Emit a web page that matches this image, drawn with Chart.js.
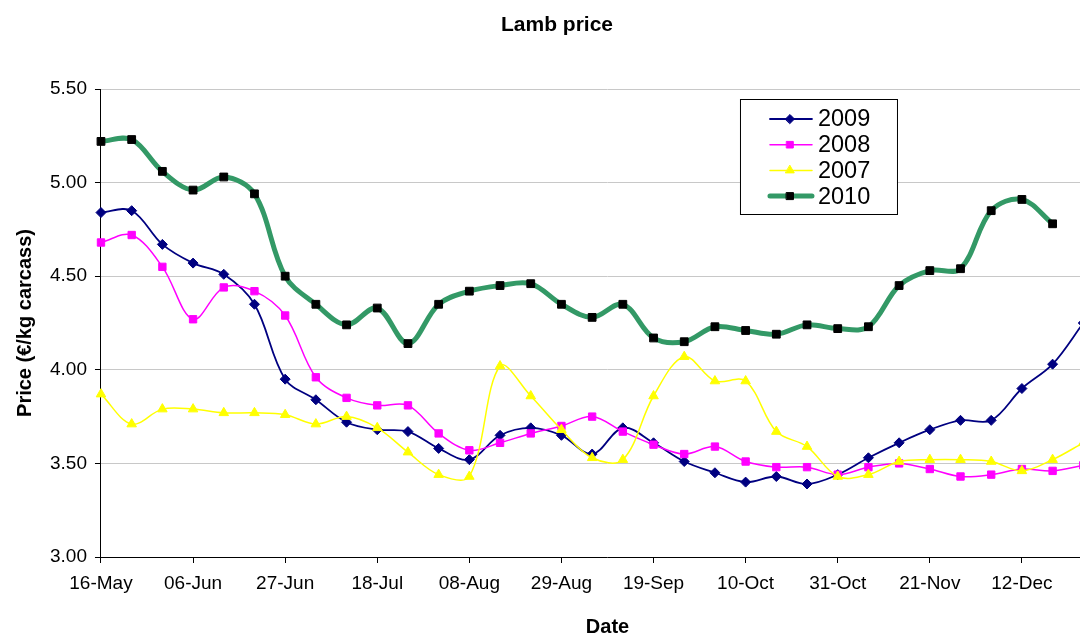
<!DOCTYPE html>
<html>
<head>
<meta charset="utf-8">
<script src="https://cdn.jsdelivr.net/npm/chart.js@4"></script>
<style>
html, body { margin: 0; padding: 0; background: #fff; overflow: hidden; }
</style>
</head>
<body>
<canvas id="chart" width="1125" height="637"></canvas>
<script>
// weekly categories, the axis only labels every third week
// (the original chart runs a little past the right edge of the picture)
const weeks = ['16-May', '23-May', '30-May', '06-Jun', '13-Jun', '20-Jun', '27-Jun', '04-Jul',
  '11-Jul', '18-Jul', '25-Jul', '01-Aug', '08-Aug', '15-Aug', '22-Aug', '29-Aug', '05-Sep',
  '12-Sep', '19-Sep', '26-Sep', '03-Oct', '10-Oct', '17-Oct', '24-Oct', '31-Oct', '07-Nov',
  '14-Nov', '21-Nov', '28-Nov', '05-Dec', '12-Dec', '19-Dec', '26-Dec', '02-Jan'];
const lastLabelled = weeks.indexOf('12-Dec');

const price2009 = [4.84, 4.85, 4.67, 4.57, 4.51, 4.35, 3.95, 3.84, 3.72, 3.68, 3.67, 3.58, 3.52,
  3.65, 3.69, 3.65, 3.55, 3.69, 3.61, 3.51, 3.45, 3.40, 3.43, 3.39, 3.44, 3.53, 3.61, 3.68,
  3.73, 3.73, 3.90, 4.03, 4.25];
const price2008 = [4.68, 4.72, 4.55, 4.27, 4.44, 4.42, 4.29, 3.96, 3.85, 3.81, 3.81, 3.66, 3.57,
  3.61, 3.66, 3.70, 3.75, 3.67, 3.60, 3.55, 3.59, 3.51, 3.48, 3.48, 3.44, 3.48, 3.50, 3.47,
  3.43, 3.44, 3.47, 3.46, 3.49];
const price2007 = [3.87, 3.71, 3.79, 3.79, 3.77, 3.77, 3.76, 3.71, 3.75, 3.69, 3.56, 3.44, 3.43,
  4.02, 3.86, 3.68, 3.53, 3.52, 3.86, 4.07, 3.94, 3.94, 3.67, 3.59, 3.43, 3.44, 3.51, 3.52,
  3.52, 3.51, 3.46, 3.52, 3.61];
const price2010 = [5.22, 5.23, 5.06, 4.96, 5.03, 4.94, 4.50, 4.35, 4.24, 4.33, 4.14, 4.35, 4.42,
  4.45, 4.46, 4.35, 4.28, 4.35, 4.17, 4.15, 4.23, 4.21, 4.19, 4.24, 4.22, 4.23, 4.45, 4.53,
  4.54, 4.85, 4.91, 4.78];

const FONT = 'Arial, "Liberation Sans", sans-serif';

function series(label, data, line, marker, style, radius, width, order) {
  return {
    label: label,
    data: data,
    borderColor: line,
    borderWidth: width,
    backgroundColor: marker,
    pointStyle: style,
    pointRadius: radius,
    pointBackgroundColor: marker,
    pointBorderColor: marker,
    pointBorderWidth: 1,
    tension: 0.35,
    fill: false,
    order: order
  };
}

function showTick(i) {
  return i % 3 === 0 && i <= lastLabelled;
}

// boxed key sitting inside the plot area
const boxLegend = {
  id: 'boxLegend',
  afterDatasetsDraw(chart) {
    const ctx = chart.ctx;
    const ca = chart.chartArea;
    const x = ca.left + 639, y = ca.top + 10, w = 157, h = 115;
    ctx.save();
    ctx.fillStyle = '#fff';
    ctx.fillRect(x, y, w, h);
    ctx.strokeStyle = '#000';
    ctx.lineWidth = 1;
    ctx.strokeRect(x + 0.5, y + 0.5, w, h);
    ctx.font = '23.5px ' + FONT;
    ctx.textBaseline = 'middle';
    chart.data.datasets.forEach((ds, i) => {
      const cy = y + 20 + i * 25.7;
      ctx.strokeStyle = ds.borderColor;
      ctx.lineWidth = ds.borderWidth;
      ctx.lineCap = 'round';
      ctx.beginPath();
      ctx.moveTo(x + 30, cy);
      ctx.lineTo(x + 72, cy);
      ctx.stroke();
      ctx.fillStyle = ds.pointBackgroundColor;
      ctx.strokeStyle = ds.pointBorderColor;
      ctx.lineWidth = 1;
      Chart.helpers.drawPoint(ctx, {
        pointStyle: ds.pointStyle, radius: ds.pointRadius * 0.9, rotation: 0, borderWidth: 1
      }, x + 50, cy);
      ctx.fillStyle = '#000';
      ctx.fillText(ds.label, x + 78, cy + 1);
    });
    ctx.restore();
  }
};

new Chart(document.getElementById('chart'), {
  type: 'line',
  data: {
    labels: weeks,
    datasets: [
      series('2009', price2009, '#000080', '#000080', 'rectRot', 5, 1.8, 4),
      series('2008', price2008, '#ff00ff', '#ff00ff', 'rect', 5.2, 1.5, 3),
      series('2007', price2007, '#ffff00', '#ffff00', 'triangle', 5.5, 1.5, 2),
      series('2010', price2010, '#339966', '#000000', 'rect', 5.5, 5, 1)
    ]
  },
  options: {
    responsive: false,
    animation: false,
    devicePixelRatio: 1,
    layout: { autoPadding: false, padding: { left: 0, right: 11, top: 0, bottom: 0 } },
    plugins: {
      legend: { display: false },
      tooltip: { enabled: false },
      title: {
        display: true,
        text: 'Lamb price',
        color: '#000',
        font: { family: FONT, size: 21, weight: 'bold', lineHeight: 1 },
        padding: { top: 15, bottom: 53 }
      }
    },
    scales: {
      x: {
        grid: {
          drawOnChartArea: false,
          drawTicks: true,
          tickLength: 6,
          color: c => showTick(c.index) ? '#000' : 'rgba(0,0,0,0)'
        },
        border: { color: '#000', width: 1 },
        ticks: {
          autoSkip: false,
          maxRotation: 0,
          padding: 11,
          color: '#000',
          font: { family: FONT, size: 19, lineHeight: 1 },
          callback: (v, i) => showTick(i) ? weeks[i] : ''
        },
        title: {
          display: true,
          text: 'Date',
          color: '#000',
          font: { family: FONT, size: 20, weight: 'bold', lineHeight: 1 },
          padding: { top: 13, bottom: 0 }
        }
      },
      y: {
        min: 3,
        max: 5.5,
        grid: { color: '#c8c8c8', tickColor: '#000', tickLength: 6 },
        border: { color: '#000', width: 1 },
        ticks: {
          stepSize: 0.5,
          padding: 8,
          color: '#000',
          font: { family: FONT, size: 19, lineHeight: 1 },
          callback: v => v.toFixed(2)
        },
        title: {
          display: true,
          text: 'Price (€/kg carcass)',
          color: '#000',
          font: { family: FONT, size: 20, weight: 'bold', lineHeight: 1 },
          padding: { top: 15, bottom: 7 }
        }
      }
    }
  },
  plugins: [boxLegend]
});
</script>
</body>
</html>
